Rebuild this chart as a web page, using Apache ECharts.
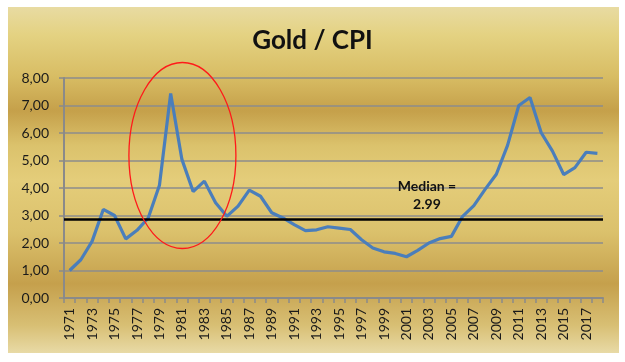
<!DOCTYPE html>
<html><head><meta charset="utf-8">
<script src="https://cdn.jsdelivr.net/npm/echarts@6/dist/echarts.min.js"></script>
<style>html,body{margin:0;padding:0;background:#fff}#c{width:625px;height:362px}</style>
</head><body><div id="c"></div>
<script>
const years = [];
for (let y = 1971; y <= 2018; y++) years.push(String(y));
const goldCpi = [1.00,1.39,2.06,3.22,3.00,2.15,2.46,2.91,4.10,7.44,5.04,3.87,4.25,3.46,2.97,3.34,3.92,3.70,3.10,2.91,2.67,2.45,2.48,2.59,2.54,2.49,2.12,1.82,1.68,1.62,1.50,1.73,2.00,2.16,2.24,2.97,3.36,3.95,4.50,5.55,7.00,7.29,6.01,5.34,4.49,4.74,5.30,5.26];
const medianLine = 2.88;
const medianText = 'Median =\n2.99';
const yTicks = [0,1,2,3,4,5,6,7,8];

const chart = echarts.init(document.getElementById('c'));
const option = {
  animation: false,
  backgroundColor: '#ffffff',
  title: {
    text: 'Gold / CPI', left: 'center', top: 23,
    textStyle: {fontFamily: 'Lato', fontWeight: 'bold', fontSize: 26, color: '#111'}
  },
  grid: {left: 64, right: 22, top: 78, bottom: 64},
  xAxis: {
    type: 'category', data: years, boundaryGap: true,
    axisLine: {lineStyle: {color: '#8a8a8a', width: 2}},
    axisTick: {show: true, interval: 0, length: 5, lineStyle: {color: '#8a8a8a', width: 1.5}},
    axisLabel: {interval: 1, rotate: 90, fontSize: 14, fontFamily: 'Lato', color: '#1a1a1a', margin: 10}
  },
  yAxis: {
    type: 'value', min: yTicks[0], max: yTicks[yTicks.length-1], interval: 1,
    axisLine: {show: true, lineStyle: {color: '#8a8a8a', width: 2}},
    axisTick: {show: true, length: 5, lineStyle: {color: '#8a8a8a', width: 1.5}},
    splitLine: {lineStyle: {color: '#8c8c8c', width: 1.5}},
    axisLabel: {fontSize: 14, fontFamily: 'Lato', color: '#1a1a1a', margin: 15,
      formatter: v => v.toFixed(2).replace('.', ',')}
  },
  series: [{
    type: 'line', data: goldCpi, showSymbol: false, symbol: 'none',
    lineStyle: {color: '#4a7ebb', width: 3.2},
    z: 3,
    markLine: {
      silent: true, symbol: 'none', label: {show: false},
      lineStyle: {color: '#000', width: 2.5, type: 'solid'},
      data: [{yAxis: medianLine}]
    }
  }]
};
chart.setOption(option);

function build() {
  const c1 = chart.convertToPixel({seriesIndex: 0}, [10, 5.2]);
  const lbl = chart.convertToPixel({seriesIndex: 0}, [32, medianLine]);
  chart.setOption({
    graphic: [
      {type: 'rect', z: -10, silent: true,
        shape: {x: 8, y: 7, width: 611, height: 346},
        style: {fill: new echarts.graphic.LinearGradient(0, 0, 0, 1, [
          {offset: 0, color: '#e8dba2'},
          {offset: 0.08, color: '#e4d282'},
          {offset: 0.2, color: '#d8bd64'},
          {offset: 0.3, color: '#c5a04a'},
          {offset: 0.4, color: '#dbc26c'},
          {offset: 0.5, color: '#e4cd7a'},
          {offset: 0.65, color: '#dbc16c'},
          {offset: 0.8, color: '#c5a04c'},
          {offset: 0.92, color: '#d8bf74'},
          {offset: 1, color: '#e8daa6'}
        ])}
      },
      {type: 'ellipse', z: 10, silent: true,
        shape: {cx: c1[0] + 0.5, cy: c1[1] + 0.5, rx: 53.5, ry: 93},
        style: {fill: 'none', stroke: '#ff1a1a', lineWidth: 1.3}
      },
      {type: 'text', z: 10, silent: true,
        x: lbl[0] - 2, y: lbl[1] - 41,
        style: {text: medianText, fill: '#111', font: 'bold 14px Lato', align: 'center', lineHeight: 18}
      }
    ]
  });
}
build();
</script></body></html>
